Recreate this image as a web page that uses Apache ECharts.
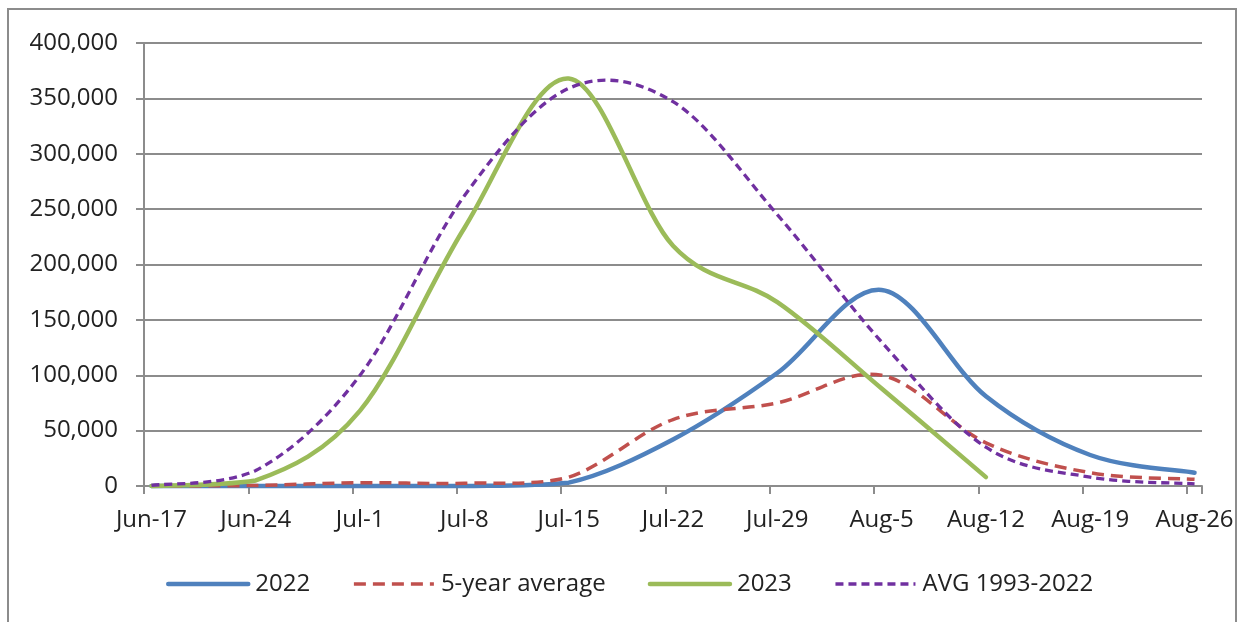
<!DOCTYPE html>
<html>
<head>
<meta charset="utf-8">
<script src="https://cdn.jsdelivr.net/npm/echarts@6/dist/echarts.min.js"></script>
<style>
  html, body { margin: 0; padding: 0; background: #ffffff; }
  #chart { width: 1244px; height: 622px; }
</style>
</head>
<body>
<div id="chart"></div>
<script>
// Weekly tick labels (each week is 7 daily slots on the axis)
const weekLabels = ['Jun-17', 'Jun-24', 'Jul-1', 'Jul-8', 'Jul-15', 'Jul-22', 'Jul-29', 'Aug-5', 'Aug-12', 'Aug-19', 'Aug-26'];

// Weekly values (one value per week label)
const values2022 = [0, 0, 0, 0, 3000, 42000, 102000, 177000, 81000, 28000, 12000];
const values5yr = [0, 500, 3000, 2500, 8000, 60000, 75000, 100000, 39000, 12000, 6000];
const values2023 = [0, 5000, 68000, 233000, 368000, 217000, 166000, 88000, 8000];
const valuesAvg = [500, 14000, 100000, 262000, 359000, 347000, 245000, 130000, 35000, 8000, 2000];

const seriesNames = ['2022', '5-year average', '2023', 'AVG 1993-2022'];
const seriesColors = ['#4F81BD', '#C0504D', '#9BBB59', '#7030A0'];

// Daily categories Jun-17 .. Aug-26 (date axis in the original)
const monthSpans = [['Jun', 17, 30], ['Jul', 1, 31], ['Aug', 1, 26]];
const categories = [];
monthSpans.forEach(([m, a, b]) => { for (let d = a; d <= b; d++) categories.push(m + '-' + d); });
const DAYS_PER_WEEK = 7;
const toPoints = arr => arr.map((v, k) => [k * DAYS_PER_WEEK, v]);

const FONT = 'Open Sans';
const TEXT = '#222222';
const GRID = '#8c8c8c';

const styles = [
  { width: 4.5, dash: null, cap: 'round' },
  { width: 3.5, dash: [12, 7], cap: 'butt' },
  { width: 4.5, dash: null, cap: 'round' },
  { width: 3.3, dash: [8, 5], cap: 'butt' }
];
const allValues = [values2022, values5yr, values2023, valuesAvg];

// Excel-like smoothed line (Catmull-Rom Bezier) drawn through the axis coordinates
function makeRenderer(points, idx) {
  return function (params, api) {
    if (params.dataIndex !== 0) return null;
    const p = points.map(d => api.coord(d));
    const base = api.coord([0, 0])[1];
    let d = 'M' + p[0][0] + ' ' + p[0][1];
    for (let i = 0; i < p.length - 1; i++) {
      const p0 = p[Math.max(i - 1, 0)], p1 = p[i], p2 = p[i + 1], p3 = p[Math.min(i + 2, p.length - 1)];
      const c1x = p1[0] + (p2[0] - p0[0]) / 6, c1y = Math.min(base, p1[1] + (p2[1] - p0[1]) / 6);
      const c2x = p2[0] - (p3[0] - p1[0]) / 6, c2y = Math.min(base, p2[1] - (p3[1] - p1[1]) / 6);
      d += ' C' + c1x + ' ' + c1y + ' ' + c2x + ' ' + c2y + ' ' + p2[0] + ' ' + p2[1];
    }
    const s = styles[idx];
    return {
      type: 'path',
      shape: { pathData: d },
      style: { fill: 'none', stroke: seriesColors[idx], lineWidth: s.width, lineDash: s.dash, lineCap: s.cap, lineJoin: 'round' },
      silent: true
    };
  };
}

const legendSeries = seriesNames.map((name, i) => ({
  name, type: 'line', data: [], symbol: 'none',
  lineStyle: { color: seriesColors[i], width: styles[i].width, type: styles[i].dash || 'solid', cap: styles[i].cap },
  itemStyle: { color: seriesColors[i] }
}));
const drawSeries = seriesNames.map((name, i) => {
  const pts = toPoints(allValues[i]);
  return {
    name, type: 'custom', data: pts, renderItem: makeRenderer(pts, i),
    itemStyle: { color: seriesColors[i] }, clip: false, z: 3 + i
  };
});

const chart = echarts.init(document.getElementById('chart'), null, { renderer: 'canvas' });
chart.setOption({
  animation: false,
  backgroundColor: '#ffffff',
  graphic: [{
    type: 'rect', z: -1, silent: true,
    shape: { x: 8, y: 9, width: 1228, height: 640 },
    style: { fill: 'none', stroke: '#8c8c8c', lineWidth: 2 }
  }],
  grid: { left: 144, right: 42, top: 43, bottom: 136, containLabel: false },
  legend: {
    left: 166, top: 572, padding: 0,
    itemWidth: 80, itemHeight: 20, itemGap: 42,
    textStyle: { fontFamily: FONT, fontSize: 24, color: TEXT, padding: [0, 0, 0, 2] },
    itemStyle: { opacity: 0 },
    lineStyle: { width: 'inherit' },
    data: seriesNames
  },
  xAxis: {
    type: 'category',
    data: categories,
    boundaryGap: true,
    axisLine: { show: true, lineStyle: { color: GRID, width: 2 } },
    axisTick: { show: true, interval: DAYS_PER_WEEK - 1, length: 8, lineStyle: { color: GRID, width: 2 } },
    axisLabel: { interval: DAYS_PER_WEEK - 1, margin: 22, fontFamily: FONT, fontSize: 24, color: TEXT },
    splitLine: { show: false }
  },
  yAxis: {
    type: 'value',
    min: 0, max: 400000, interval: 50000,
    axisLine: { show: true, lineStyle: { color: GRID, width: 2 } },
    axisTick: { show: true, length: 8, lineStyle: { color: GRID, width: 2 } },
    axisLabel: {
      margin: 26, fontFamily: FONT, fontSize: 24, color: TEXT,
      formatter: v => v.toLocaleString('en-US')
    },
    splitLine: { show: true, lineStyle: { color: GRID, width: 2 } }
  },
  series: legendSeries.concat(drawSeries)
});
</script>
</body>
</html>
